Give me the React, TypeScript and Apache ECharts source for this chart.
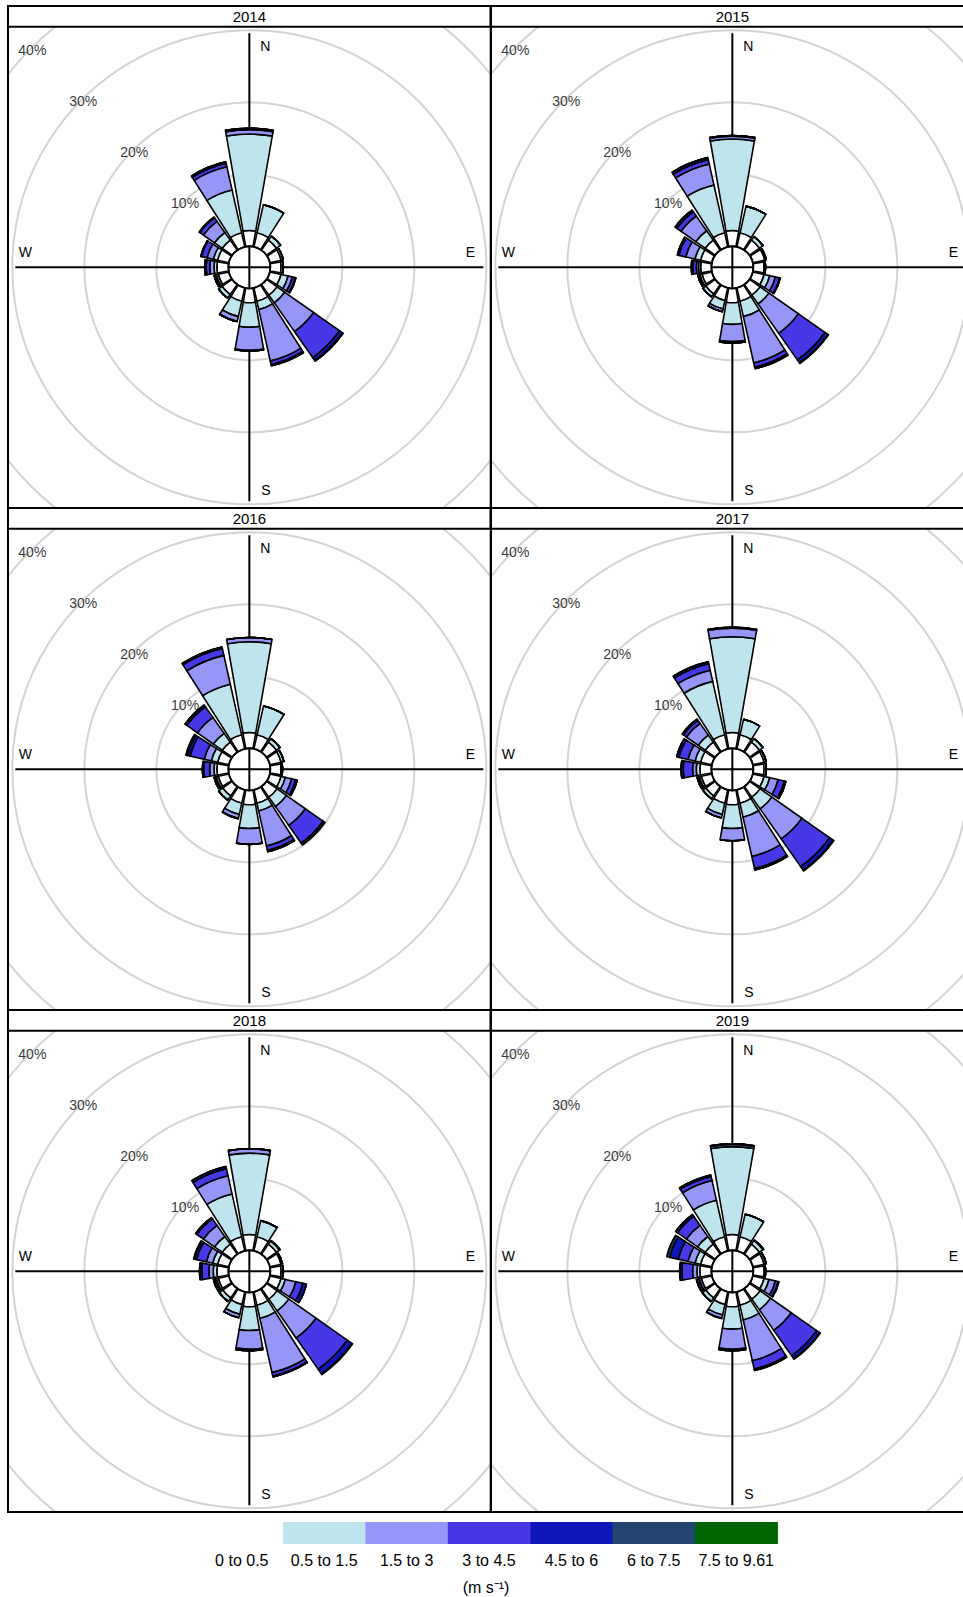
import React, { useEffect, useRef } from "react";
import * as echarts from "echarts";

// ---------- data ----------
const directions = ["N", "NNE", "NE", "ENE", "E", "ESE", "SE", "SSE", "S", "SSW", "SW", "WSW", "W", "WNW", "NW", "NNW"];
const speedBins = ["0 to 0.5", "0.5 to 1.5", "1.5 to 3", "3 to 4.5", "4.5 to 6", "6 to 7.5", "7.5 to 9.61"];
const binColors = ["#FFFFFF", "#BEE4ED", "#9696F8", "#4638E6", "#0D16B9", "#234572", "#006400"];
const years = ["2014", "2015", "2016", "2017", "2018", "2019"];
const pctTicks = [10, 20, 30, 40];
const compass = ["N", "E", "S", "W"];
const unitLabel = "(m s\u207B\u00B9)";

// each row: one direction (N..NNW), percentage of time in each speed bin
const rose2014 = [
  [2.2, 13.4, 0.6, 0.2, 0, 0, 0],
  [2.0, 4.0, 0, 0, 0, 0, 0],
  [1.7, 0.7, 0, 0, 0, 0, 0],
  [1.6, 0.3, 0, 0, 0, 0, 0],
  [1.5, 0.3, 0, 0, 0, 0, 0],
  [1.6, 1.0, 0.6, 0.4, 0.1, 0, 0],
  [1.8, 1.3, 4.9, 4.4, 0.5, 0.1, 0],
  [1.9, 1.2, 7.3, 0.5, 0.2, 0, 0],
  [2.0, 3.4, 3.2, 0.1, 0, 0, 0],
  [1.9, 2.2, 0.7, 0, 0, 0, 0],
  [1.7, 0.6, 0, 0, 0, 0, 0],
  [1.5, 0.3, 0.1, 0.2, 0, 0, 0],
  [1.6, 0.4, 0.6, 0.5, 0.2, 0, 0],
  [1.6, 0.6, 0.9, 0.8, 0.1, 0, 0],
  [1.7, 1.3, 1.9, 0.6, 0.1, 0, 0],
  [2.0, 6.1, 3.3, 0.5, 0.2, 0, 0],
];
const rose2015 = [
  [2.2, 12.7, 0.4, 0.1, 0, 0, 0],
  [2.0, 3.8, 0, 0, 0, 0, 0],
  [1.7, 0.6, 0, 0, 0, 0, 0],
  [1.7, 0.2, 0, 0, 0, 0, 0],
  [1.5, 0.2, 0, 0, 0, 0, 0],
  [1.6, 0.8, 0.8, 0.6, 0.1, 0, 0],
  [1.8, 1.5, 5.0, 4.5, 0.5, 0.1, 0],
  [1.9, 2.2, 6.6, 0.6, 0.2, 0, 0],
  [2.0, 3.0, 2.4, 0.2, 0, 0, 0],
  [1.8, 1.2, 0.4, 0, 0, 0, 0],
  [1.6, 0.5, 0, 0, 0, 0, 0],
  [1.4, 0.3, 0.1, 0.2, 0, 0, 0],
  [1.5, 0.3, 0.3, 0.5, 0.2, 0, 0],
  [1.6, 0.8, 1.3, 1.0, 0.2, 0, 0],
  [1.7, 1.6, 2.5, 0.7, 0.3, 0, 0],
  [2.0, 6.8, 3.0, 0.6, 0.3, 0, 0],
];
const rose2016 = [
  [2.2, 12.6, 0.6, 0, 0, 0, 0],
  [2.0, 4.1, 0, 0, 0, 0, 0],
  [1.7, 0.6, 0, 0, 0, 0, 0],
  [1.6, 0.4, 0, 0, 0, 0, 0],
  [1.5, 0.2, 0, 0, 0, 0, 0],
  [1.6, 0.6, 0.9, 0.6, 0.2, 0, 0],
  [1.8, 1.6, 3.2, 3.0, 0.3, 0, 0],
  [1.9, 1.1, 5.0, 0.6, 0.2, 0, 0],
  [2.0, 3.3, 2.2, 0, 0, 0, 0],
  [1.9, 1.6, 0.6, 0, 0, 0, 0],
  [1.6, 0.7, 0, 0, 0, 0, 0],
  [1.5, 0.3, 0.1, 0.2, 0, 0, 0],
  [1.6, 0.4, 0.6, 0.8, 0.2, 0, 0],
  [1.6, 0.9, 1.0, 2.0, 0.4, 0.2, 0],
  [1.7, 1.5, 2.7, 1.8, 0.3, 0, 0],
  [2.0, 7.2, 4.1, 1.0, 0.2, 0, 0],
];
const rose2017 = [
  [2.2, 13.3, 1.2, 0.1, 0, 0, 0],
  [2.0, 2.2, 0, 0, 0, 0, 0],
  [1.7, 0.6, 0, 0, 0, 0, 0],
  [1.6, 0.3, 0, 0, 0, 0, 0],
  [1.5, 0.3, 0, 0, 0, 0, 0],
  [1.6, 0.8, 1.2, 0.9, 0.2, 0, 0],
  [1.8, 2.0, 5.1, 4.7, 0.6, 0.1, 0],
  [1.9, 2.0, 5.6, 1.7, 0.2, 0, 0],
  [2.0, 3.3, 1.7, 0, 0, 0, 0],
  [1.9, 1.6, 0.5, 0, 0, 0, 0],
  [1.6, 0.5, 0, 0, 0, 0, 0],
  [1.5, 0.3, 0.1, 0.2, 0, 0, 0],
  [1.6, 0.5, 0.5, 1.3, 0.3, 0, 0],
  [1.6, 0.8, 1.0, 1.3, 0.3, 0, 0],
  [1.7, 1.2, 2.0, 0.5, 0.2, 0, 0],
  [2.0, 7.6, 1.6, 0.9, 0.3, 0, 0],
];
const rose2018 = [
  [2.2, 11.3, 0.6, 0, 0, 0, 0],
  [2.0, 2.3, 0, 0, 0, 0, 0],
  [1.7, 0.5, 0.1, 0, 0, 0, 0],
  [1.6, 0.2, 0, 0, 0, 0, 0],
  [1.5, 0.3, 0, 0, 0, 0, 0],
  [1.6, 0.6, 1.5, 1.0, 0.5, 0, 0],
  [1.8, 2.0, 4.6, 5.3, 0.8, 0.1, 0],
  [1.9, 1.9, 7.7, 0.5, 0.1, 0, 0],
  [2.0, 3.3, 2.6, 0.2, 0, 0, 0],
  [1.8, 1.4, 0.5, 0, 0, 0, 0],
  [1.6, 0.6, 0, 0, 0, 0, 0],
  [1.5, 0.3, 0.2, 0.2, 0, 0, 0],
  [1.6, 0.5, 0.6, 1.0, 0.3, 0, 0],
  [1.6, 0.7, 0.9, 1.4, 0.3, 0.1, 0],
  [1.7, 1.3, 1.9, 1.1, 0.2, 0, 0],
  [2.0, 6.1, 2.6, 1.0, 0.3, 0, 0],
];
const rose2019 = [
  [2.2, 12.2, 0.3, 0.1, 0, 0, 0],
  [2.0, 3.2, 0, 0, 0, 0, 0],
  [1.7, 0.6, 0.1, 0, 0, 0, 0],
  [1.6, 0.3, 0, 0, 0, 0, 0],
  [1.5, 0.2, 0, 0, 0, 0, 0],
  [1.6, 0.7, 0.9, 0.4, 0.1, 0, 0],
  [1.8, 1.8, 3.5, 4.3, 0.5, 0.1, 0],
  [1.9, 2.1, 5.8, 1.2, 0.2, 0, 0],
  [2.0, 3.1, 2.8, 0.2, 0, 0, 0],
  [1.8, 1.5, 0.5, 0, 0, 0, 0],
  [1.6, 0.6, 0, 0, 0, 0, 0],
  [1.5, 0.3, 0.1, 0.3, 0, 0, 0],
  [1.6, 0.4, 0.6, 1.5, 0.3, 0, 0],
  [1.6, 0.8, 1.0, 1.4, 1.2, 0.4, 0],
  [1.7, 1.3, 1.9, 1.5, 0.3, 0, 0],
  [2.0, 5.2, 2.8, 0.6, 0.2, 0, 0],
];
const roses = [rose2014, rose2015, rose2016, rose2017, rose2018, rose2019];

// ---------- layout ----------
const FONT = "'Liberation Sans', Arial, sans-serif";
const LEFT = 8;
const TOP = 6;
const PANEL_W = 482.7;
const PANEL_H = 501.9;
const STRIP_H = 20.8;
const HOLE_R = 21;
const OUTER_R = 309;
const CROSS_HALF = 234;

function Panel({ year, rows, col, row }: { year: string; rows: number[][]; col: number; row: number }) {
  const ref = useRef<HTMLDivElement>(null);
  useEffect(() => {
    const chart = echarts.init(ref.current!, null, { renderer: "svg" });
    const cx = 1 + PANEL_W / 2;
    const cy = 1 + STRIP_H + (PANEL_H - STRIP_H) / 2;
    const series: any[] = speedBins.map((name, k) => ({
      type: "bar",
      coordinateSystem: "polar",
      stack: "rose",
      name,
      data: rows.map((r) => r[k]),
      barCategoryGap: "12%",
      itemStyle: { color: binColors[k], borderColor: "#000", borderWidth: 1.6 },
      z: 2,
      silent: true,
    }));
    series.push({
      type: "scatter",
      coordinateSystem: "polar",
      data: pctTicks.map((v) => [v, directions.indexOf("NW")]),
      symbolSize: 1,
      itemStyle: { color: "transparent" },
      label: {
        show: true,
        position: "inside",
        offset: [1.5, 1.5],
        formatter: (p: any) => `${p.data[0]}%`,
        color: "#000",
        fontSize: 14,
        fontFamily: FONT,
      },
      z: 1,
      silent: true,
    });
    const lbl = (text: string, x: number, y: number) => ({
      type: "text",
      x,
      y,
      z: 3,
      silent: true,
      style: {
        text,
        fill: "#000",
        font: `14px ${FONT}`,
        textAlign: "center",
        textVerticalAlign: "middle",
      },
    });
    chart.setOption({
      animation: false,
      backgroundColor: "transparent",
      polar: { center: [cx, cy], radius: [HOLE_R, OUTER_R] },
      angleAxis: {
        type: "category",
        data: directions,
        startAngle: 90 + 360 / directions.length / 2,
        clockwise: true,
        boundaryGap: true,
        axisLine: { show: false },
        axisTick: { show: false },
        axisLabel: { show: false },
        splitLine: { show: false },
      },
      radiusAxis: {
        type: "value",
        min: 0,
        max: 40,
        interval: 10,
        axisLine: { show: false },
        axisTick: { show: false },
        axisLabel: { show: false },
        splitLine: { show: true, lineStyle: { color: "#D3D3D3", width: 2 } },
      },
      series,
      graphic: [
        {
          type: "line",
          z: 1,
          silent: true,
          shape: { x1: cx - CROSS_HALF, y1: cy, x2: cx + CROSS_HALF, y2: cy },
          style: { stroke: "#000", lineWidth: 2 },
        },
        {
          type: "line",
          z: 1,
          silent: true,
          shape: { x1: cx, y1: cy - CROSS_HALF, x2: cx, y2: cy + CROSS_HALF },
          style: { stroke: "#000", lineWidth: 2 },
        },
        {
          type: "circle",
          z: 5,
          silent: true,
          shape: { cx, cy, r: HOLE_R },
          style: { fill: null, stroke: "#000", lineWidth: 1.8 },
        },
        lbl(compass[0], cx + 16, cy - 221.5),
        lbl(compass[1], cx + 221, cy - 15.5),
        lbl(compass[2], cx + 16.5, cy + 222.5),
        lbl(compass[3], cx - 224, cy - 15.5),
        {
          type: "rect",
          z: 10,
          silent: true,
          shape: { x: 1, y: 1, width: PANEL_W, height: STRIP_H },
          style: { fill: "#fff", stroke: "#000", lineWidth: 2 },
        },
        {
          type: "text",
          z: 11,
          silent: true,
          x: cx,
          y: 1 + STRIP_H / 2 + 0.5,
          style: { text: year, fill: "#000", font: `15px ${FONT}`, textAlign: "center", textVerticalAlign: "middle" },
        },
        {
          type: "rect",
          z: 12,
          silent: true,
          shape: { x: 1, y: 1, width: PANEL_W, height: PANEL_H },
          style: { fill: null, stroke: "#000", lineWidth: 2 },
        },
      ],
    });
    return () => chart.dispose();
  }, [year, rows]);
  return (
    <div
      ref={ref}
      style={{
        position: "absolute",
        left: LEFT + col * PANEL_W - 1,
        top: TOP + row * PANEL_H - 1,
        width: PANEL_W + 2,
        height: PANEL_H + 2,
      }}
    />
  );
}

const LEG_TOP = 1512;
const LEG_BOX_W = 82.4;
const LEG_X0 = 283 - LEG_BOX_W;

function Legend() {
  const ref = useRef<HTMLDivElement>(null);
  useEffect(() => {
    const chart = echarts.init(ref.current!, null, { renderer: "svg" });
    const els: any[] = [];
    speedBins.forEach((name, i) => {
      const x = LEG_X0 + i * LEG_BOX_W;
      els.push({
        type: "rect",
        silent: true,
        shape: { x, y: 10, width: LEG_BOX_W + 0.5, height: 22 },
        style: { fill: binColors[i] },
      });
      els.push({
        type: "text",
        silent: true,
        x: x + LEG_BOX_W / 2,
        y: 48,
        style: { text: name, fill: "#000", font: `16px ${FONT}`, textAlign: "center", textVerticalAlign: "middle" },
      });
    });
    els.push({
      type: "text",
      silent: true,
      x: LEG_X0 + (speedBins.length * LEG_BOX_W) / 2 - 3,
      y: 75,
      style: { text: unitLabel, fill: "#000", font: `16px ${FONT}`, textAlign: "center", textVerticalAlign: "middle" },
    });
    chart.setOption({ animation: false, graphic: els });
    return () => chart.dispose();
  }, []);
  return <div ref={ref} style={{ position: "absolute", left: 0, top: LEG_TOP, width: 963, height: 85 }} />;
}

export default function App() {
  return (
    <div
      style={{
        position: "fixed",
        left: 0,
        top: 0,
        width: 963,
        height: 1597,
        overflow: "hidden",
        background: "#fff",
      }}
    >
      {years.map((y, i) => (
        <Panel key={y} year={y} rows={roses[i]} col={i % 2} row={Math.floor(i / 2)} />
      ))}
      <Legend />
    </div>
  );
}
